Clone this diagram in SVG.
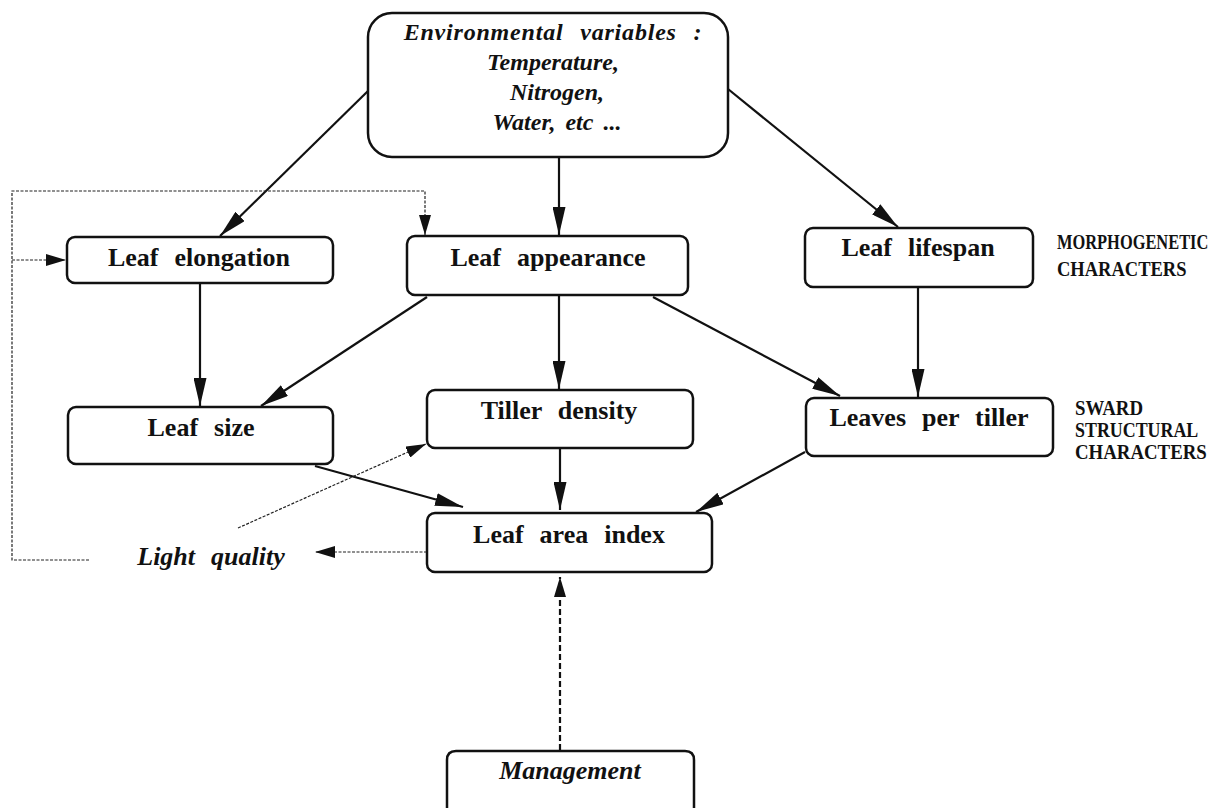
<svg xmlns="http://www.w3.org/2000/svg" width="1231" height="808" viewBox="0 0 1231 808">
<style>
.box{fill:#fff;stroke:#111;stroke-width:2.5}
.lbl{font-family:"Liberation Serif","Times New Roman",serif;font-weight:bold;font-size:26px;fill:#111;text-anchor:middle;word-spacing:9.5px}
.it{font-family:"Liberation Serif","Times New Roman",serif;font-weight:bold;font-style:italic;font-size:26px;fill:#111;text-anchor:middle;word-spacing:9.5px}
.env{font-family:"Liberation Serif","Times New Roman",serif;font-weight:bold;font-style:italic;font-size:24px;fill:#111;text-anchor:middle;word-spacing:4px}
.cap{font-family:"Liberation Serif","Times New Roman",serif;font-weight:bold;font-size:21px;fill:#111}
.solid{fill:none;stroke:#111;stroke-width:2.2;marker-end:url(#big)}
.dot{fill:none;stroke:#222;stroke-width:1.2;stroke-dasharray:3 1.5}
.dash{fill:none;stroke:#111;stroke-width:2.2;stroke-dasharray:6 3;marker-end:url(#small)}
</style>
<defs>
<marker id="big" markerUnits="userSpaceOnUse" markerWidth="28" markerHeight="13" refX="28" refY="6.5" orient="auto"><path d="M0,0 L28,6.5 L0,13 z" fill="#111"/></marker>
<marker id="small" markerUnits="userSpaceOnUse" markerWidth="20" markerHeight="12" refX="20" refY="6" orient="auto"><path d="M0,0 L20,6 L0,12 z" fill="#111"/></marker>
</defs>
<rect width="1231" height="808" fill="#fff"/>

<g id="connectors">
<path class="solid" d="M369,90 L220,236"/>
<path class="solid" d="M559,157 L559,235"/>
<path class="solid" d="M728,89 L898,227"/>
<path class="solid" d="M200,283 L200,406"/>
<path class="solid" d="M427,297 L261,406"/>
<path class="solid" d="M559,295 L559,389"/>
<path class="solid" d="M653,297 L840,396"/>
<path class="solid" d="M918,287 L918,397"/>
<path class="solid" d="M315,466 L463,507"/>
<path class="solid" d="M560,448 L560,510"/>
<path class="solid" d="M805,452 L696,512"/>
<path class="dot" marker-end="url(#small)" d="M427,552 L315,552"/>
<path class="dot" marker-end="url(#small)" d="M238,528 L426,444"/>
<path class="dot" marker-end="url(#small)" d="M89,560 L12,560 L12,191 L425,191 L425,235"/>
<path class="dot" marker-end="url(#small)" d="M12,260 L66,260"/>
<path class="dash" d="M560,750 L560,577"/>
</g>

<g id="env">
<rect class="box" x="368" y="13" width="360" height="144" rx="24"/>
<text class="env" x="553" y="40" style="letter-spacing:0.8px;word-spacing:10px">Environmental variables :</text>
<text class="env" x="553" y="70">Temperature,</text>
<text class="env" x="557" y="100">Nitrogen,</text>
<text class="env" x="557" y="130">Water, etc ...</text>
</g>

<g id="elongation">
<rect class="box" x="67" y="237" width="266" height="46" rx="8"/>
<text class="lbl" x="199" y="266">Leaf elongation</text>
</g>

<g id="appearance">
<rect class="box" x="407" y="236" width="281" height="59" rx="8"/>
<text class="lbl" x="548" y="266">Leaf appearance</text>
</g>

<g id="lifespan">
<rect class="box" x="805" y="228" width="228" height="59" rx="8"/>
<text class="lbl" x="918" y="256">Leaf lifespan</text>
</g>

<g id="size">
<rect class="box" x="68" y="407" width="265" height="57" rx="8"/>
<text class="lbl" x="201" y="436">Leaf size</text>
</g>

<g id="tiller">
<rect class="box" x="427" y="390" width="266" height="58" rx="8"/>
<text class="lbl" x="559" y="419">Tiller density</text>
</g>

<g id="leaves">
<rect class="box" x="806" y="398" width="247" height="58" rx="8"/>
<text class="lbl" x="929" y="426">Leaves per tiller</text>
</g>

<g id="lai">
<rect class="box" x="427" y="513" width="285" height="59" rx="8"/>
<text class="lbl" x="569" y="543">Leaf area index</text>
</g>

<g id="light">
<text class="it" x="211" y="565">Light quality</text>
</g>

<g id="management">
<path class="box" d="M447,808 L447,760 Q447,751 456,751 L685,751 Q694,751 694,760 L694,808"/>
<text class="it" x="570" y="779">Management</text>
</g>

<g id="labels">
<g transform="translate(1057,0) scale(0.78,1)">
<text class="cap" x="0" y="249" textLength="194" lengthAdjust="spacingAndGlyphs">MORPHOGENETIC</text>
<text class="cap" x="0" y="276" textLength="166" lengthAdjust="spacingAndGlyphs">CHARACTERS</text>
</g>
<g transform="translate(1075,0) scale(0.85,1)">
<text class="cap" x="0" y="415" textLength="80" lengthAdjust="spacingAndGlyphs">SWARD</text>
<text class="cap" x="0" y="437" textLength="145" lengthAdjust="spacingAndGlyphs">STRUCTURAL</text>
<text class="cap" x="0" y="459" textLength="155" lengthAdjust="spacingAndGlyphs">CHARACTERS</text>
</g>
</g>
</svg>
